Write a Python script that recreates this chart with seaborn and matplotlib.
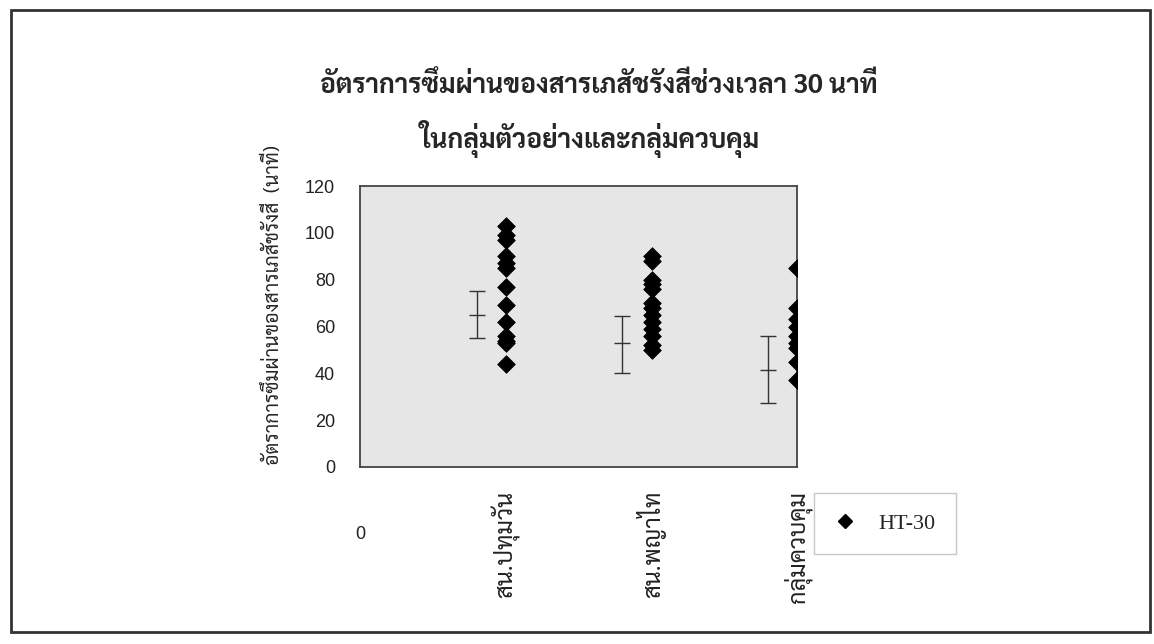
import matplotlib
matplotlib.use('Agg')
import numpy as np
import pandas as pd
import seaborn as sns
import matplotlib.pyplot as plt
from matplotlib.patches import Rectangle

# values
categories = ['สน.ปทุมวัน', 'สน.พญาไท', 'กลุ่มควบคุม']
pathumwan = [103, 99, 97, 90, 87, 85, 77, 69, 62, 56, 54, 53, 44]
phayathai = [90, 88, 80, 78, 76, 70, 68, 65, 62, 59, 56, 52, 50]
control = [85, 68, 63, 60, 56, 53, 51, 45, 37]
means = [65, 53, 41.5]
err_low = [55, 40, 27.5]
err_high = [75, 64.5, 56]

title1 = 'อัตราการซึมผ่านของสารเภสัชรังสีช่วงเวลา 30 นาที'
title2 = 'ในกลุ่มตัวอย่างและกลุ่มควบคุม'
ylabel = 'อัตราการซึมผ่านของสารเภสัชรังสี  (นาที)'

sns.set_style('white')
thai = ['Sarabun', 'Noto Sans Thai', 'Athiti', 'DejaVu Sans']
plt.rcParams['font.family'] = ['Liberation Sans', 'DejaVu Sans']

rows = []
for i, vals in enumerate([pathumwan, phayathai, control]):
    for v in vals:
        rows.append({'pos': i + 1, 'value': v})
df = pd.DataFrame(rows)

fig = plt.figure(figsize=(11.54, 6.44), dpi=100)
ax = fig.add_axes([0.312, 0.275, 0.379, 0.436])
ax.set_facecolor('#e6e6e6')

pos = np.arange(1, len(categories) + 1)
m = np.array(means)
ax.errorbar(pos - 0.2, m, yerr=[m - np.array(err_low), np.array(err_high) - m],
            fmt='_', ms=11, mew=1, color='#333333', ecolor='#333333',
            elinewidth=1, capsize=5.5, capthick=1, zorder=2)

sns.scatterplot(data=df, x='pos', y='value', marker='D', s=80, color='black',
                edgecolor='black', linewidth=0.6, ax=ax, zorder=3, legend=False)

ax.set_xlim(0, 3)
ax.set_ylim(0, 120)
ax.set_yticks(range(0, 121, 20))
ax.set_xticks([0, 1, 2, 3])
ax.set_xticklabels(['', categories[0], categories[1], categories[2]],
                   rotation=90, fontsize=17, family=thai, va='top', ha='center')
ax.tick_params(axis='y', direction='inout', length=14, width=1, pad=11,
               labelsize=13, colors='#222222')
ax.tick_params(axis='x', direction='out', length=11, width=1, pad=6,
               colors='#222222')
for s in ax.spines.values():
    s.set_color('#444444')
    s.set_linewidth(1.3)
ax.set_xlabel('')
ax.set_ylabel(ylabel, family=thai, fontsize=14)
ax.yaxis.set_label_coords(-0.177, 0.577)
ax.text(0, -0.24, '0', transform=ax.get_xaxis_transform(), ha='center',
        va='center', fontsize=13, color='#222222')

fig.text(0.519, 0.868, title1, ha='center', va='center',
         family=thai, fontsize=19, fontweight='bold')
fig.text(0.511, 0.784, title2, ha='center', va='center',
         family=thai, fontsize=19, fontweight='bold')

h = plt.Line2D([], [], marker='D', color='black', ls='', ms=7)
leg = fig.legend([h], ['HT-30'], loc='center', bbox_to_anchor=(0.767, 0.187),
                 prop={'family': 'Liberation Serif', 'size': 16}, frameon=True,
                 fancybox=False, edgecolor='#bbbbbb', borderpad=0.9,
                 handletextpad=1.0, handlelength=1.0)
leg.get_frame().set_linewidth(1)

fig.patches.append(Rectangle((11 / 1154, 1 - 632 / 644), 1139 / 1154, 622 / 644,
                             transform=fig.transFigure, fill=False,
                             edgecolor='#333333', linewidth=2))

fig.savefig('out.png', dpi=100)
